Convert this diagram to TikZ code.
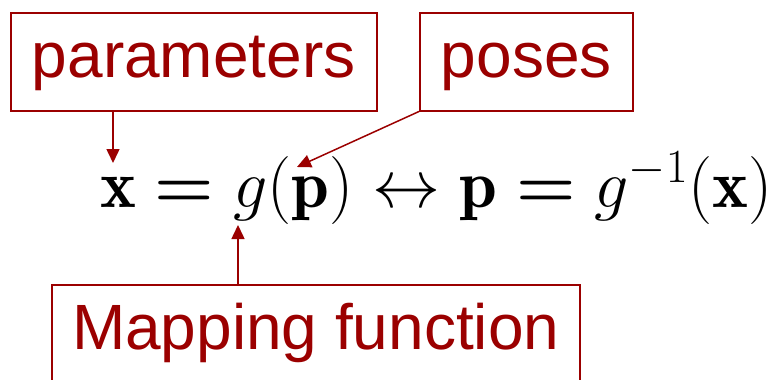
\RequirePackage{fix-cm}
\documentclass[tikz,border=0pt]{standalone}
\usepackage{fontspec}
\usepackage{amsmath}
\usepackage{amsbsy}
\usetikzlibrary{arrows.meta}
\newfontfamily\boxfont{Liberation Sans}
\definecolor{boxred}{RGB}{155,0,0}
\newcommand{\boldeq}{\mathrel{\boldsymbol{=}}}
\tikzset{
  labelbox/.style={draw=boxred, line width=1.5pt, text=boxred, anchor=north west,
    font=\boxfont\fontsize{64}{70}\selectfont, text height=46pt, text depth=14pt,
    minimum height=98pt, inner xsep=0pt},
  pointer/.style={boxred, line width=1.5pt, -{Triangle[length=14pt,width=13pt]}}
}
\begin{document}
\begin{tikzpicture}[x=1pt,y=-1pt]
            \useasboundingbox (0,0) rectangle (779,380);
            \node[labelbox, minimum width=366pt] (params) at (10,12) {parameters};
            \node[labelbox, minimum width=213pt] (poses) at (419,12) {poses};
            \node[labelbox, minimum width=528pt] (mapping) at (51,284) {Mapping function};

            \node[anchor=base west, inner sep=0pt, font=\fontsize{68}{74}\selectfont] (eqn) at (100,207)
              {$\mathbf{x}\boldeq g(\mathbf{p})\leftrightarrow\mathbf{p}\boldeq g^{-1}(\mathbf{x})$};

            \coordinate (xtip) at (113,163);
            \coordinate (ptip) at (297,167);
            \coordinate (gtip) at (238,225);

            \draw[pointer] (params.south -| xtip) -- (xtip);
            \draw[pointer] (poses.south west) -- (ptip);
            \draw[pointer] (mapping.north -| gtip) -- (gtip);
        \end{tikzpicture}
\end{document}
